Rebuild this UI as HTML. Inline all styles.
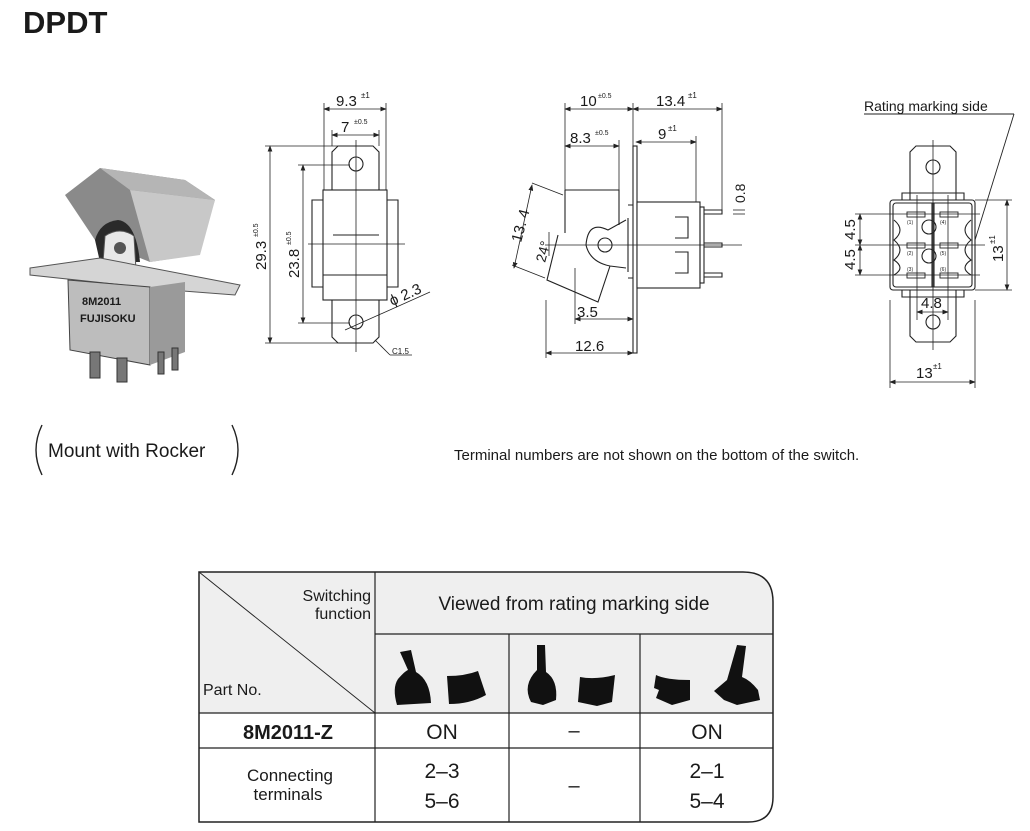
<!DOCTYPE html>
<html><head><meta charset="utf-8"><style>
html,body{margin:0;padding:0;background:#fff;}
body{width:1030px;height:831px;overflow:hidden;position:relative;}
svg{position:absolute;left:0;top:0;}
text{font-family:"Liberation Sans",sans-serif;fill:#1a1a1a;}
</style></head><body>
<svg width="1030" height="831" viewBox="0 0 1030 831" xmlns="http://www.w3.org/2000/svg">
<defs>
<marker id="a" markerWidth="8" markerHeight="6" refX="7" refY="3" orient="auto"><path d="M0,0 L8,3 L0,6z" fill="#222"/></marker>
<marker id="b" markerWidth="8" markerHeight="6" refX="1" refY="3" orient="auto"><path d="M8,0 L0,3 L8,6z" fill="#222"/></marker>
</defs>
<text x="23" y="33" font-size="31" font-weight="bold">DPDT</text>

<!-- photo -->
<g>
<polygon points="65,195 100,168 185,180 215,200 195,255 150,262 95,240" fill="#8a8a8a"/>
<polygon points="100,168 185,180 215,200 130,190" fill="#b5b5b5"/>
<polygon points="130,190 215,200 200,255 150,262" fill="#c8c8c8"/>
<path d="M95,240 Q100,222 118,220 Q136,222 140,262 L100,262z" fill="#2a2a2a"/>
<circle cx="120" cy="245" r="10" fill="#777"/>
<path d="M103,262 L105,236 Q120,226 134,236 L136,270z" fill="#e8e8e8" stroke="#555"/>
<circle cx="120" cy="248" r="6" fill="#555"/>
<polygon points="30,268 100,258 240,285 235,295 170,290 30,275" fill="#d5d5d5" stroke="#555"/>
<polygon points="68,280 150,287 150,365 70,350" fill="#bdbdbd" stroke="#444"/>
<polygon points="150,287 185,282 185,352 150,365" fill="#9a9a9a"/>
<text x="82" y="305" font-size="11" font-weight="bold" fill="#222">8M2011</text>
<text x="80" y="322" font-size="11" font-weight="bold" fill="#222">FUJISOKU</text>
<rect x="90" y="352" width="10" height="26" fill="#777" stroke="#333"/>
<rect x="117" y="358" width="10" height="24" fill="#777" stroke="#333"/>
<rect x="158" y="352" width="6" height="22" fill="#777" stroke="#333"/>
<rect x="172" y="348" width="6" height="22" fill="#777" stroke="#333"/>
</g>

<!-- caption -->
<path d="M42,425 Q30,450 42,475" fill="none" stroke="#222" stroke-width="1.4"/>
<path d="M232,425 Q244,450 232,475" fill="none" stroke="#222" stroke-width="1.4"/>
<text x="48" y="457" font-size="19">Mount with Rocker</text>
<text x="454" y="460" font-size="15">Terminal numbers are not shown on the bottom of the switch.</text>

<!-- front view -->
<g stroke="#222" fill="none" stroke-width="1.1">
<path d="M332,190 L332,152 L338,146 L373,146 L379,152 L379,190"/>
<path d="M332,300 L332,337 L338,343 L373,343 L379,337 L379,300"/>
<rect x="323" y="190" width="64" height="110" fill="#fff"/>
<line x1="323" y1="275" x2="387" y2="275"/>
<path d="M323,200 L312,200 L312,287 L323,287 M387,200 L398,200 L398,287 L387,287"/>
<line x1="333" y1="235" x2="379" y2="235"/>
<circle cx="356" cy="164" r="7"/><circle cx="356" cy="322" r="7"/>
<g stroke-width="0.8">
<line x1="356" y1="140" x2="356" y2="352"/>
<line x1="308" y1="244" x2="405" y2="244"/>
<line x1="324" y1="103" x2="324" y2="190"/><line x1="386" y1="103" x2="386" y2="190"/>
<line x1="332" y1="130" x2="332" y2="146"/><line x1="379" y1="130" x2="379" y2="146"/>
<line x1="265" y1="146" x2="338" y2="146"/><line x1="265" y1="343" x2="338" y2="343"/>
<line x1="298" y1="165" x2="350" y2="165"/><line x1="298" y1="323" x2="350" y2="323"/>
<line x1="345" y1="330" x2="430" y2="292"/>
<line x1="375" y1="340" x2="390" y2="355"/><line x1="390" y1="355" x2="412" y2="355"/>
</g>
<line x1="324" y1="109" x2="386" y2="109" marker-start="url(#b)" marker-end="url(#a)" stroke-width="0.8"/>
<line x1="332" y1="135" x2="379" y2="135" marker-start="url(#b)" marker-end="url(#a)" stroke-width="0.8"/>
<line x1="270" y1="146" x2="270" y2="343" marker-start="url(#b)" marker-end="url(#a)" stroke-width="0.8"/>
<line x1="303" y1="165" x2="303" y2="323" marker-start="url(#b)" marker-end="url(#a)" stroke-width="0.8"/>
</g>
<text x="336" y="106" font-size="15">9.3</text><text x="361" y="98" font-size="8">±1</text>
<text x="341" y="132" font-size="15">7</text><text x="354" y="124" font-size="7">±0.5</text>
<text transform="translate(266,270) rotate(-90)" font-size="15">29.3</text><text transform="translate(258,237) rotate(-90)" font-size="7">±0.5</text>
<text transform="translate(299,278) rotate(-90)" font-size="15">23.8</text><text transform="translate(291,245) rotate(-90)" font-size="7">±0.5</text>
<text transform="translate(392,306) rotate(-24)" font-size="15">ϕ 2.3</text>
<text x="392" y="354" font-size="8">C1.5</text>

<!-- side view -->
<g stroke="#222" fill="none" stroke-width="1.1">
<rect x="633" y="146" width="4" height="207" fill="#fff"/>
<path d="M565,190 L619,190 L619,225 M565,190 L565,233"/>
<path d="M558,235 L547,280 L598,302 L610,266"/>
<path d="M626,220 L608,230 Q588,220 586,245 Q590,262 610,266 L626,268"/>
<circle cx="605" cy="245" r="7"/>
<path d="M628,218 L628,272 M628,205 L633,205 M628,278 L633,278"/>
<rect x="637" y="202" width="63" height="86" fill="#fff"/>
<path d="M675,217 L688,217 L688,238 L675,238 M675,252 L688,252 L688,273 L675,273"/>
<rect x="700" y="207" width="4" height="76"/>
<path d="M704,210 L722,210 L722,214 L704,214 M704,243 L722,243 L722,247 L704,247 M704,273 L722,273 L722,277 L704,277"/>
<g stroke-width="0.8">
<line x1="545" y1="245" x2="742" y2="245"/>
<line x1="565" y1="103" x2="565" y2="190"/><line x1="633" y1="103" x2="633" y2="146"/><line x1="722" y1="103" x2="722" y2="210"/>
<line x1="619" y1="140" x2="619" y2="190"/><line x1="696" y1="136" x2="696" y2="202"/>
<line x1="546" y1="300" x2="546" y2="358"/><line x1="575" y1="268" x2="575" y2="324"/>
<line x1="532" y1="183" x2="563" y2="195"/><line x1="512" y1="265" x2="545" y2="278"/>
<line x1="733" y1="210" x2="745" y2="210"/><line x1="733" y1="214" x2="745" y2="214"/>
</g>
<line x1="565" y1="109" x2="633" y2="109" marker-start="url(#b)" marker-end="url(#a)" stroke-width="0.8"/>
<line x1="633" y1="109" x2="722" y2="109" marker-start="url(#b)" marker-end="url(#a)" stroke-width="0.8"/>
<line x1="565" y1="146" x2="619" y2="146" marker-start="url(#b)" marker-end="url(#a)" stroke-width="0.8"/>
<line x1="636" y1="142" x2="696" y2="142" marker-start="url(#b)" marker-end="url(#a)" stroke-width="0.8"/>
<line x1="546" y1="353" x2="633" y2="353" marker-start="url(#b)" marker-end="url(#a)" stroke-width="0.8"/>
<line x1="575" y1="319" x2="633" y2="319" marker-start="url(#b)" marker-end="url(#a)" stroke-width="0.8"/>
<line x1="532" y1="185" x2="514" y2="268" marker-start="url(#b)" marker-end="url(#a)" stroke-width="0.8"/>
<line x1="549" y1="232" x2="549" y2="256" stroke-width="0.8"/>
</g>
<text x="580" y="106" font-size="15">10</text><text x="598" y="98" font-size="7">±0.5</text>
<text x="656" y="106" font-size="15">13.4</text><text x="688" y="98" font-size="8">±1</text>
<text x="570" y="143" font-size="15">8.3</text><text x="595" y="135" font-size="7">±0.5</text>
<text x="658" y="139" font-size="15">9</text><text x="668" y="131" font-size="8">±1</text>
<text x="577" y="317" font-size="15">3.5</text>
<text x="575" y="351" font-size="15">12.6</text>
<text transform="translate(521,243) rotate(-75)" font-size="15">13. 4</text>
<text transform="translate(545,263) rotate(-75)" font-size="14">24°</text>
<text transform="translate(745,203) rotate(-90)" font-size="14">0.8</text>

<!-- right view -->
<text x="864" y="111" font-size="14">Rating marking side</text>
<line x1="864" y1="114" x2="1014" y2="114" stroke="#222" stroke-width="1"/>
<line x1="1014" y1="114" x2="975" y2="240" stroke="#222" stroke-width="0.9"/>
<g stroke="#222" fill="none" stroke-width="1.1">
<path d="M910,200 L910,152 L916,146 L950,146 L956,152 L956,200"/>
<path d="M910,290 L910,336 L916,342 L950,342 L956,336 L956,290"/>
<path d="M902,200 L902,193 L964,193 L964,200 M902,290 L902,297 L964,297 L964,290"/>
<rect x="890" y="200" width="85" height="90" rx="3" fill="#fff"/>
<rect x="893" y="203" width="79" height="84" rx="3"/>
<line x1="932" y1="203" x2="932" y2="287"/><line x1="934" y1="203" x2="934" y2="287"/>
<circle cx="933" cy="167" r="7"/><circle cx="933" cy="322" r="7"/>
<circle cx="929" cy="227" r="7"/><circle cx="929" cy="256" r="7"/>
<path d="M894,220 Q906,230 894,240 Q906,250 894,260 Q906,268 894,275 M971,220 Q959,230 971,240 Q959,250 971,260 Q959,268 971,275"/>
<g stroke-width="0.9">
<rect x="907" y="212" width="18" height="5"/><rect x="940" y="212" width="18" height="5"/>
<rect x="907" y="243" width="18" height="5"/><rect x="940" y="243" width="18" height="5"/>
<rect x="907" y="273" width="18" height="5"/><rect x="940" y="273" width="18" height="5"/>
</g>
<g stroke-width="0.8">
<line x1="933" y1="140" x2="933" y2="350"/>
<line x1="917" y1="195" x2="917" y2="320"/><line x1="948" y1="195" x2="948" y2="320"/>
<line x1="855" y1="214" x2="980" y2="214"/><line x1="855" y1="245" x2="985" y2="245"/><line x1="855" y1="275" x2="980" y2="275"/>
<line x1="975" y1="200" x2="1012" y2="200"/><line x1="975" y1="290" x2="1012" y2="290"/>
<line x1="890" y1="300" x2="890" y2="388"/><line x1="975" y1="300" x2="975" y2="388"/>
</g>
<line x1="860" y1="214" x2="860" y2="245" marker-start="url(#b)" marker-end="url(#a)" stroke-width="0.8"/>
<line x1="860" y1="245" x2="860" y2="275" marker-start="url(#b)" marker-end="url(#a)" stroke-width="0.8"/>
<line x1="1007" y1="200" x2="1007" y2="290" marker-start="url(#b)" marker-end="url(#a)" stroke-width="0.8"/>
<line x1="917" y1="312" x2="948" y2="312" marker-start="url(#b)" marker-end="url(#a)" stroke-width="0.8"/>
<line x1="890" y1="382" x2="975" y2="382" marker-start="url(#b)" marker-end="url(#a)" stroke-width="0.8"/>
</g>
<g font-size="5"><text x="907" y="224">(1)</text><text x="940" y="224">(4)</text><text x="907" y="255">(2)</text><text x="940" y="255">(5)</text><text x="907" y="271">(3)</text><text x="940" y="271">(6)</text></g>
<text transform="translate(855,240) rotate(-90)" font-size="15">4.5</text>
<text transform="translate(855,270) rotate(-90)" font-size="15">4.5</text>
<text transform="translate(1003,262) rotate(-90)" font-size="15">13</text><text transform="translate(995,244) rotate(-90)" font-size="8">±1</text>
<text x="921" y="308" font-size="15">4.8</text>
<text x="916" y="378" font-size="15">13</text><text x="933" y="369" font-size="8">±1</text>

<!-- table -->
<path d="M199,572 L743,572 Q773,572 773,602 L773,634 L375,634 L375,713 L199,713 Z" fill="#efefef"/>
<path d="M375,634 L773,634 L773,713 L375,713Z" fill="#efefef"/>
<path d="M199,572 L743,572 Q773,572 773,602 L773,797 Q773,822 748,822 L199,822 Z" fill="none" stroke="#222" stroke-width="1.5"/>
<g stroke="#222" stroke-width="1.2">
<line x1="375" y1="572" x2="375" y2="822"/>
<line x1="375" y1="634" x2="773" y2="634"/>
<line x1="509" y1="634" x2="509" y2="822"/><line x1="640" y1="634" x2="640" y2="822"/>
<line x1="199" y1="713" x2="773" y2="713"/><line x1="199" y1="748" x2="773" y2="748"/>
<line x1="199" y1="572" x2="375" y2="713" stroke-width="0.9"/>
</g>
<text x="371" y="601" font-size="16" text-anchor="end">Switching</text>
<text x="371" y="619" font-size="16" text-anchor="end">function</text>
<text x="574" y="610" font-size="19" text-anchor="middle">Viewed from rating marking side</text>
<text x="203" y="695" font-size="16">Part No.</text>
<g fill="#111">
<path d="M400,652 L411,650 L416,672 Q430,680 431,703 L397,705 Q392,688 398,679 Q405,671 408,670 Z"/>
<path d="M447,676 Q465,676 478,671 L486,695 Q470,704 449,704 Z"/>
<path d="M537,645 L545,645 L546,672 Q558,680 556,700 L543,705 L531,702 Q522,685 537,670 Z"/>
<path d="M580,677 Q595,680 615,675 L612,702 L597,706 L578,702 Z"/>
<path d="M656,675 Q666,680 690,680 L690,700 L672,705 L656,698 L659,690 L654,688 Z"/>
<path d="M737,645 L746,646 L742,677 Q750,680 758,690 L760,700 L737,705 L724,700 L714,691 L727,680 Z"/>
</g>
<text x="288" y="739" font-size="20" font-weight="bold" text-anchor="middle">8M2011-Z</text>
<text x="442" y="739" font-size="21" text-anchor="middle">ON</text>
<text x="574" y="737" font-size="20" text-anchor="middle">–</text>
<text x="707" y="739" font-size="21" text-anchor="middle">ON</text>
<text x="290" y="781" font-size="17" text-anchor="middle">Connecting</text>
<text x="288" y="800" font-size="17" text-anchor="middle">terminals</text>
<text x="442" y="778" font-size="21" text-anchor="middle">2–3</text>
<text x="442" y="808" font-size="21" text-anchor="middle">5–6</text>
<text x="574" y="792" font-size="20" text-anchor="middle">–</text>
<text x="707" y="778" font-size="21" text-anchor="middle">2–1</text>
<text x="707" y="808" font-size="21" text-anchor="middle">5–4</text>
</svg>
</body></html>
